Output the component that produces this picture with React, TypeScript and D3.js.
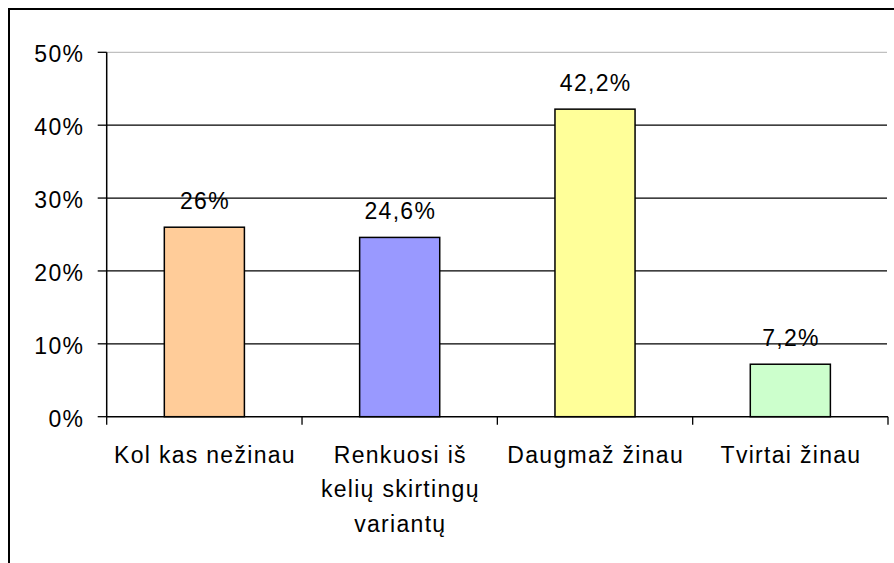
import React from "react";
import * as d3 from "d3";

const categories: string[][] = [
  ["Kol kas nežinau"],
  ["Renkuosi iš", "kelių skirtingų", "variantų"],
  ["Daugmaž žinau"],
  ["Tvirtai žinau"],
];
const values: number[] = [26, 24.6, 42.2, 7.2];
const colors: string[] = ["#FFCC99", "#9999FF", "#FFFF99", "#CCFFCC"];
const yTicks: number[] = [0, 10, 20, 30, 40, 50];

const W = 894;
const H = 563;
const FONT = "'Liberation Sans', Arial, sans-serif";
const FS = 23;
const LS = 1.3;

export default function App() {
  const left = 106.7;
  const right = 888;
  const top = 52.3;
  const bottom = 416.7;
  const keys = categories.map((_, i) => String(i));
  const x = d3.scaleBand<string>().domain(keys).range([left, right]).padding(0);
  const y = d3.scaleLinear().domain([0, 50]).range([bottom, top]);
  const bw = x.bandwidth() * 0.41;
  const fmt = (v: number) => String(v).replace(".", ",") + "%";
  const boundaries = keys.map((k) => x(k)!).concat([right]);

  return (
    <svg
      width={W}
      height={H}
      style={{ position: "absolute", left: 0, top: 0, background: "#fff" }}
    >
      <rect x={0} y={0} width={W} height={H} fill="#fff" />
      <rect x={9} y={9} width={W + 20} height={H + 20} fill="none" stroke="#000" strokeWidth={2} />
      {yTicks.map((t) => (
        <g key={t}>
          {t > 0 && (
            <line
              x1={left}
              x2={right - 1}
              y1={y(t)}
              y2={y(t)}
              stroke={t === 50 ? "#c0c0c0" : "#000"}
              strokeWidth={1.3}
            />
          )}
          <line x1={left - 9} x2={left} y1={y(t)} y2={y(t)} stroke="#000" strokeWidth={1.3} />
          <text
            x={83 + LS}
            y={y(t) + 10}
            textAnchor="end"
            fontFamily={FONT}
            fontSize={FS}
            letterSpacing={LS}
            fill="#000"
          >
            {t}%
          </text>
        </g>
      ))}
      {values.map((v, i) => {
        const cx = x(keys[i])! + x.bandwidth() / 2;
        return (
          <g key={i}>
            <rect
              x={cx - bw / 2}
              y={y(v)}
              width={bw}
              height={bottom - y(v)}
              fill={colors[i]}
              stroke="#000"
              strokeWidth={1.5}
            />
            <text
              x={cx + LS / 2}
              y={y(v) - 18}
              textAnchor="middle"
              fontFamily={FONT}
              fontSize={FS}
              letterSpacing={LS}
              fill="#000"
            >
              {fmt(v)}
            </text>
            {categories[i].map((line, j) => (
              <text
                key={j}
                x={cx + LS / 2}
                y={462.5 + j * 34.5}
                textAnchor="middle"
                fontFamily={FONT}
                fontSize={FS}
                letterSpacing={LS}
                fill="#000"
              >
                {line}
              </text>
            ))}
          </g>
        );
      })}
      <line x1={left} x2={left} y1={top} y2={bottom} stroke="#000" strokeWidth={1.5} />
      <line x1={left} x2={right} y1={bottom} y2={bottom} stroke="#000" strokeWidth={1.5} />
      {boundaries.map((b, i) => (
        <line key={i} x1={b} x2={b} y1={bottom} y2={bottom + 8} stroke="#000" strokeWidth={1.3} />
      ))}
    </svg>
  );
}
